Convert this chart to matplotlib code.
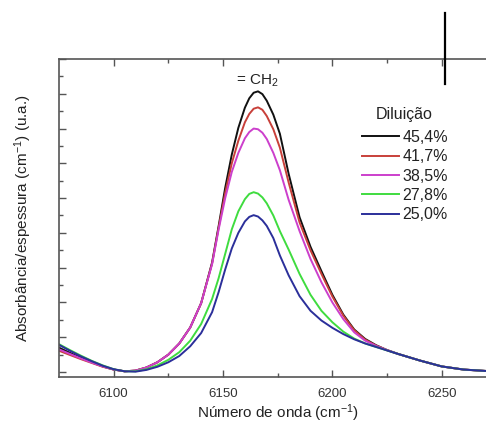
import matplotlib
matplotlib.use("Agg")
import matplotlib.pyplot as plt
from matplotlib.lines import Line2D

plt.rcParams['font.family'] = ['Liberation Sans', 'DejaVu Sans']
plt.rcParams['mathtext.default'] = 'regular'

# wavenumber grid (cm-1)
wavenumber = [6070, 6075, 6080, 6085, 6090, 6095, 6100, 6105, 6110, 6115,
              6120, 6125, 6130, 6135, 6140, 6145, 6148, 6151, 6154, 6157,
              6160, 6162, 6164, 6166, 6168, 6170, 6173, 6176, 6180, 6185,
              6190, 6195, 6200, 6205, 6210, 6215, 6220, 6225, 6230, 6240,
              6250, 6260, 6270, 6280]

dil_454 = [0.84, 0.70, 0.55, 0.41, 0.28, 0.16, 0.07, 0.02, 0.04, 0.13,
           0.28, 0.50, 0.82, 1.28, 1.98, 3.15, 4.20, 5.30, 6.25, 7.02,
           7.60, 7.87, 8.03, 8.07, 7.99, 7.80, 7.40, 6.85, 5.70, 4.45,
           3.60, 2.90, 2.22, 1.65, 1.22, 0.95, 0.77, 0.63, 0.52, 0.33,
           0.16, 0.07, 0.03, 0.01]
dil_417 = [0.74, 0.61, 0.49, 0.37, 0.26, 0.15, 0.07, 0.02, 0.04, 0.13,
           0.28, 0.50, 0.82, 1.28, 1.98, 3.12, 4.15, 5.15, 6.00, 6.65,
           7.18, 7.42, 7.57, 7.61, 7.54, 7.36, 6.98, 6.45, 5.45, 4.30,
           3.50, 2.82, 2.17, 1.62, 1.20, 0.93, 0.76, 0.63, 0.52, 0.33,
           0.16, 0.07, 0.03, 0.01]
dil_385 = [0.78, 0.65, 0.52, 0.39, 0.27, 0.16, 0.07, 0.02, 0.04, 0.13,
           0.28, 0.50, 0.82, 1.28, 1.98, 3.10, 4.10, 5.00, 5.75, 6.30,
           6.72, 6.90, 7.00, 6.98, 6.88, 6.70, 6.30, 5.80, 4.95, 4.05,
           3.25, 2.58, 2.00, 1.52, 1.14, 0.90, 0.75, 0.63, 0.52, 0.33,
           0.16, 0.07, 0.03, 0.01]
dil_278 = [0.95, 0.80, 0.63, 0.47, 0.32, 0.19, 0.08, 0.02, 0.02, 0.08,
           0.19, 0.35, 0.57, 0.90, 1.38, 2.10, 2.70, 3.40, 4.10, 4.62,
           4.97, 5.12, 5.17, 5.13, 5.02, 4.85, 4.50, 4.05, 3.52, 2.82,
           2.22, 1.76, 1.43, 1.16, 0.96, 0.82, 0.72, 0.62, 0.52, 0.33,
           0.16, 0.07, 0.03, 0.01]
dil_250 = [0.93, 0.78, 0.61, 0.45, 0.31, 0.18, 0.08, 0.02, 0.01, 0.06,
           0.15, 0.28, 0.46, 0.74, 1.12, 1.72, 2.30, 2.95, 3.55, 4.00,
           4.33, 4.46, 4.51, 4.47, 4.36, 4.20, 3.85, 3.35, 2.78, 2.18,
           1.76, 1.48, 1.27, 1.09, 0.94, 0.82, 0.72, 0.62, 0.52, 0.33,
           0.16, 0.07, 0.03, 0.01]

labels = ['45,4%', '41,7%', '38,5%', '27,8%', '25,0%']
colors = ['#111111', '#c8403a', '#cc3fcc', '#3fdc3f', '#2b2f9a']
series = [dil_454, dil_417, dil_385, dil_278, dil_250]

fig = plt.figure(figsize=(4.86, 4.34), dpi=100)
ax = fig.add_axes([59 / 486, 1 - 377 / 434, 437.4 / 486, 318 / 434])

for vals, lab, col in zip(series, labels, colors):
    ax.plot(wavenumber, vals, color=col, lw=1.4, label=lab)

ax.set_xlim(6075, 6275)
ax.set_ylim(-0.144, 8.994)
ax.set_xticks([6100, 6150, 6200, 6250])
ax.set_xticks([6125, 6175, 6225], minor=True)
ax.set_yticks(range(0, 10))
ax.set_yticks([i + 0.5 for i in range(0, 9)], minor=True)
ax.set_yticklabels([])

for s in ax.spines.values():
    s.set_color('#555555')
    s.set_linewidth(1.2)

ax.tick_params(which='both', direction='in', top=True, right=False,
               color='#555555', width=1.0, labelsize=9.5, labelcolor='#333333',
               pad=8)
ax.tick_params(which='major', length=5)
ax.tick_params(which='minor', length=3)

ax.set_xlabel('Número de onda (cm$^{-1}$)', fontsize=11, color='#222222',
              labelpad=2)
ax.set_ylabel('Absorbância/espessura (cm$^{-1}$) (u.a.)', fontsize=11,
              color='#222222', labelpad=10)

ax.text(6165.7, 8.37, '= CH$_2$', ha='center', va='center', fontsize=11,
        color='#222222')

leg = ax.legend(loc='upper left', frameon=False,
                bbox_to_anchor=(362 / 486, 1 - 130 / 434),
                bbox_transform=fig.transFigure, fontsize=11.5,
                handlelength=2.3, handletextpad=0.25,
                labelspacing=0.27, borderpad=0, borderaxespad=0)
for t in leg.get_texts():
    t.set_color('#222222')
fig.text(404.5 / 486, 1 - 114 / 434, 'Diluição', ha='center', va='center',
         fontsize=11.5, color='#222222')

# stray vertical line at the top right of the original crop
fig.add_artist(Line2D([445 / 486, 445 / 486], [1 - 13 / 434, 1 - 84 / 434],
                      transform=fig.transFigure, color='black', lw=1.6))

fig.savefig('out.png', dpi=100)
